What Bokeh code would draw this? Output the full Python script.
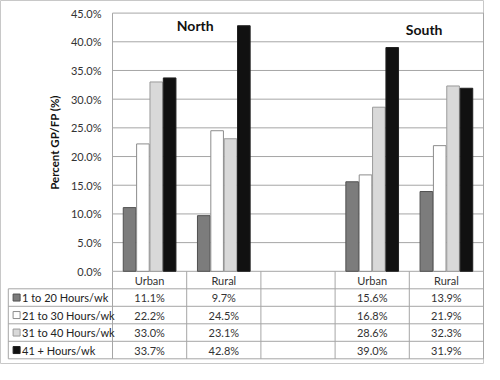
from bokeh.plotting import figure
from bokeh.models import Range1d, FixedTicker, PrintfTickFormatter, ColumnDataSource
from bokeh.core.properties import value
from bokeh.embed import file_html
from bokeh.resources import INLINE

# ---- data ----
regions = ["North", "North", "South", "South"]
settings = ["Urban", "Rural", "Urban", "Rural"]
series_names = ["1 to 20 Hours/wk", "21 to 30 Hours/wk", "31 to 40 Hours/wk", "41 + Hours/wk"]
s1 = [11.1, 9.7, 15.6, 13.9]
s2 = [22.2, 24.5, 16.8, 21.9]
s3 = [33.0, 23.1, 28.6, 32.3]
s4 = [33.7, 42.8, 39.0, 31.9]
y_ticks = [0, 5, 10, 15, 20, 25, 30, 35, 40, 45]
region_titles = ["North", "South"]

# ---- style / layout ----
FONT = "Lato"
colors = ["#7c7c7c", "#ffffff", "#d9d9d9", "#111111"]
outlines = ["#505050", "#8c8c8c", "#9a9a9a", "#202020"]
GRID = "#a6a6a6"
slots = [0.5, 1.5, 3.5, 4.5]          # column centres (slot 2 left empty)
offsets = [-0.27, -0.09, 0.09, 0.27]
BAR_W = 0.17

W, H = 484, 364
LEFT_PX = 112          # plot-area left edge (px)
TOP_PX = 12.6          # 45% line (px from top)
ZERO_PX = 270.8        # 0% line (px from top)
ROW_PX = 17.5          # table row height
XPX = (W - 1 - LEFT_PX) / 5.0      # px per slot unit
YPX = (ZERO_PX - TOP_PX) / 45.0    # px per percent

x0 = -LEFT_PX / XPX
x1 = 5 + 1 / XPX
y_top = 45 + TOP_PX / YPX
y_bot = -(H - ZERO_PX) / YPX
ROW = ROW_PX / YPX

p = figure(width=W, height=H, output_backend="svg", toolbar_location=None,
           x_range=Range1d(x0, x1), y_range=Range1d(y_bot, y_top), x_axis_type=None,
           min_border_left=0, min_border_right=0, min_border_top=0, min_border_bottom=0)
p.outline_line_color = "#c8c8c8"
p.grid.visible = False

ax = p.yaxis[0]
ax.fixed_location = 0
ax.bounds = (0, 45)
ax.ticker = FixedTicker(ticks=y_ticks)
ax.formatter = PrintfTickFormatter(format="%.1f%%")
ax.axis_line_color = None
ax.major_tick_line_color = None
ax.minor_tick_line_color = None
ax.major_tick_out = 0
ax.major_tick_in = 0
ax.minor_tick_out = 0
ax.minor_tick_in = 0
ax.major_label_standoff = 11
ax.major_label_text_font = FONT
ax.major_label_text_font_size = "11px"
ax.major_label_text_color = "#333333"
ax.axis_label = "Percent GP/FP (%)"
ax.axis_label_text_font = FONT
ax.axis_label_text_font_style = "bold"
ax.axis_label_text_font_size = "11.5px"
ax.axis_label_text_color = "#111111"
ax.axis_label_standoff = 7

# gridlines at tick values across the plot area
p.segment(x0=[0] * len(y_ticks), y0=y_ticks, x1=[5] * len(y_ticks), y1=y_ticks,
          line_color=GRID, line_width=1)
# plot-area left and right edges
p.segment(x0=[0, 5], y0=[0, 0], x1=[0, 5], y1=[45, 45], line_color=GRID, line_width=1)

for vals, col, oc, off in zip([s1, s2, s3, s4], colors, outlines, offsets):
    src = ColumnDataSource(dict(x=[s + off for s in slots], top=vals))
    p.vbar(x="x", top="top", bottom=0, width=BAR_W, source=src, fill_color=col,
           line_color=oc, line_width=1)

p.text(x=[1.115, 4.2], y=[42.8, 42.1], text=region_titles,
       text_font=value(FONT), text_font_style="bold", text_font_size="14px",
       text_align="center", text_baseline="middle", text_color="#111111")

# ---- data table below the chart ----
tl = x0 + 7.8 / XPX
rows_y = [-ROW * k for k in range(1, 6)]
p.segment(x0=[tl] * 5, y0=rows_y, x1=[5] * 5, y1=rows_y, line_color=GRID, line_width=1)
vx = [tl, 0, 1, 2, 3, 4, 5]
vy0 = [-ROW, 0, 0, 0, 0, 0, 0]
p.segment(x0=vx, y0=vy0, x1=vx, y1=[-5 * ROW] * 7, line_color=GRID, line_width=1)

p.text(x=slots, y=[-0.5 * ROW] * 4, text=settings, text_font=value(FONT),
       text_font_size="11px", text_align="center", text_baseline="middle",
       text_color="#333333")
for i, vals in enumerate([s1, s2, s3, s4]):
    p.text(x=slots, y=[-(1.5 + i) * ROW] * 4, text=[f"{v:.1f}%" for v in vals],
           text_font=value(FONT), text_font_size="11px", text_align="center",
           text_baseline="middle", text_color="#333333")

leg_y = [-(1.5 + i) * ROW for i in range(4)]
p.scatter(x=[x0 + 16.1 / XPX] * 4, y=leg_y, marker="square", size=7,
          fill_color=colors, line_color=outlines)
p.text(x=[x0 + 21.5 / XPX] * 4, y=leg_y, text=series_names,
       text_font=value(FONT), text_font_size="11px", text_align="left",
       text_baseline="middle", text_color="#222222")

open("out.html", "w").write(file_html(p, INLINE))
